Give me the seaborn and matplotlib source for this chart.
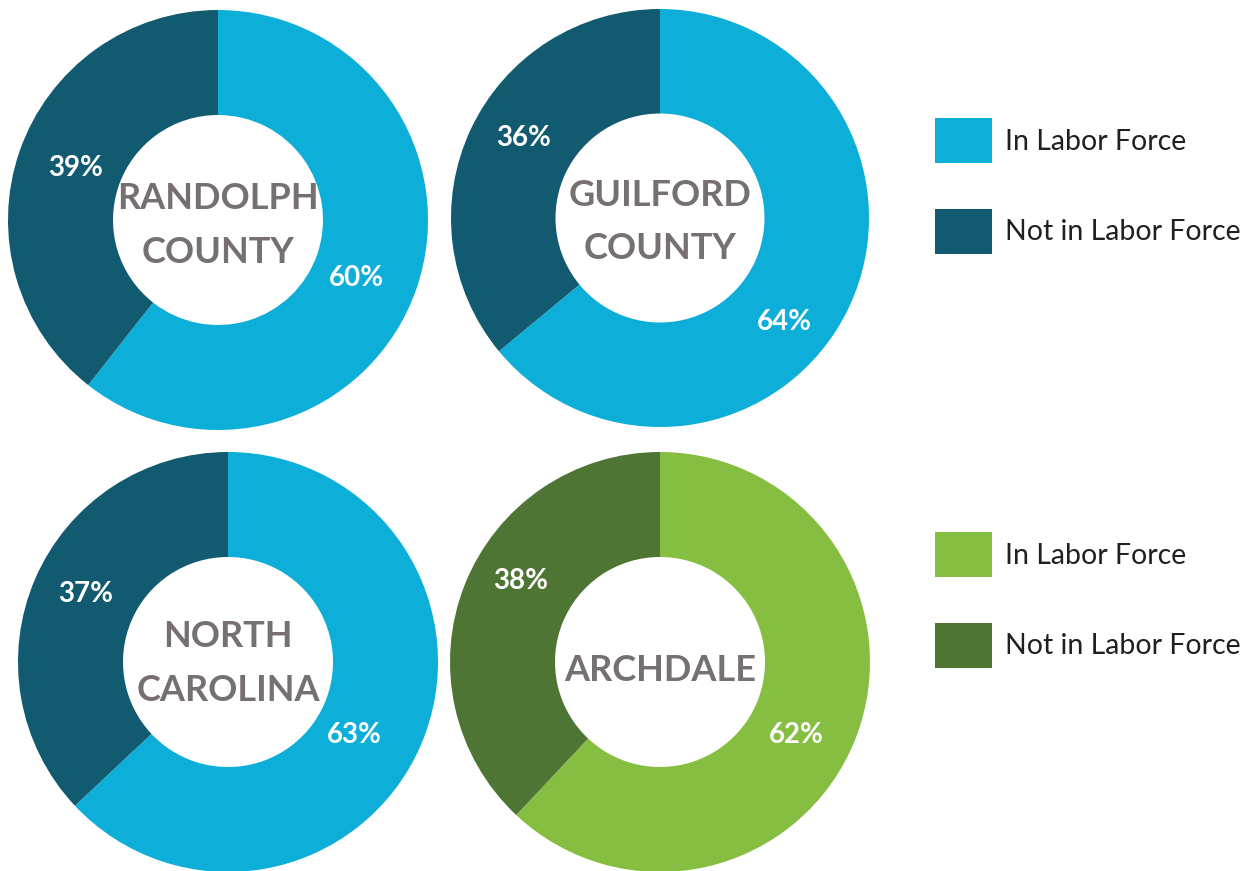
import numpy as np
import matplotlib
matplotlib.use("Agg")
import matplotlib.pyplot as plt
import seaborn as sns

sns.set_theme(style="white")
plt.rcParams["font.family"] = ["Lato", "DejaVu Sans"]

# Labor force participation by area (percent)
areas = ["RANDOLPH\nCOUNTY", "GUILFORD\nCOUNTY", "NORTH\nCAROLINA", "ARCHDALE"]
in_labor = [60, 64, 63, 62]
not_in_labor = [39, 36, 37, 38]
categories = ["In Labor Force", "Not in Labor Force"]

blue_pal = ["#0DAED8", "#115A70"]
green_pal = ["#86BE41", "#4F7535"]
palettes = [blue_pal, blue_pal, blue_pal, green_pal]

W, H = 1253, 871
fig = plt.figure(figsize=(W / 100, H / 100), dpi=100)

# (center x, center y, radius) in pixels for each donut
layout = [(218, 220, 210), (660, 218, 209), (228, 662, 210), (660, 662, 210)]
# label placement per wedge: (angle shift from wedge middle in degrees, radial distance)
label_place = [
    [(-3.7, 0.713), (-1.0, 0.72)],
    [(-14.8, 0.774), (-5.3, 0.755)],
    [(-6.7, 0.693), (-2.2, 0.75)],
    [(-6.6, 0.735), (-8.6, 0.766)],
]
# vertical nudge of the center title (axes units)
title_shift = [-0.025, -0.02, -0.008, -0.04]

text_gray = "#767071"
all_wedges = []
for (cx, cy, r), name, a, b, pal, places, dy in zip(
        layout, areas, in_labor, not_in_labor, palettes, label_place, title_shift):
    ax = fig.add_axes([(cx - r) / W, (H - cy - r) / H, 2 * r / W, 2 * r / H])
    vals = [a, b]
    wedges, _ = ax.pie(vals, colors=pal, startangle=90, counterclock=False,
                       radius=1.0, wedgeprops=dict(width=0.5, linewidth=0))
    ax.set_xlim(-1, 1)
    ax.set_ylim(-1, 1)
    ax.set_aspect("equal")
    ax.axis("off")
    all_wedges.append(wedges)
    for w, v, (shift, d) in zip(wedges, vals, places):
        mid = np.deg2rad((w.theta1 + w.theta2) / 2 + shift)
        ax.text(d * np.cos(mid), d * np.sin(mid), f"{v}%", ha="center", va="center",
                color="white", fontsize=20, fontweight="bold")
    ax.text(0, dy, name, ha="center", va="center", color=text_gray,
            fontsize=26, fontweight="bold", linespacing=1.76)

# Legends for the blue and green groups
for wedges, ycen in [(all_wedges[0], 186), (all_wedges[3], 600)]:
    leg = fig.legend(wedges, categories, loc="center left",
                     bbox_to_anchor=(935 / W, 1 - ycen / H), frameon=False,
                     fontsize=20.5, handlelength=2.0, handleheight=2.06,
                     handletextpad=0.45, labelspacing=1.61, borderaxespad=0,
                     borderpad=0)
    for t in leg.get_texts():
        t.set_color("#231F20")

fig.savefig("out.png", dpi=100, facecolor="white")
